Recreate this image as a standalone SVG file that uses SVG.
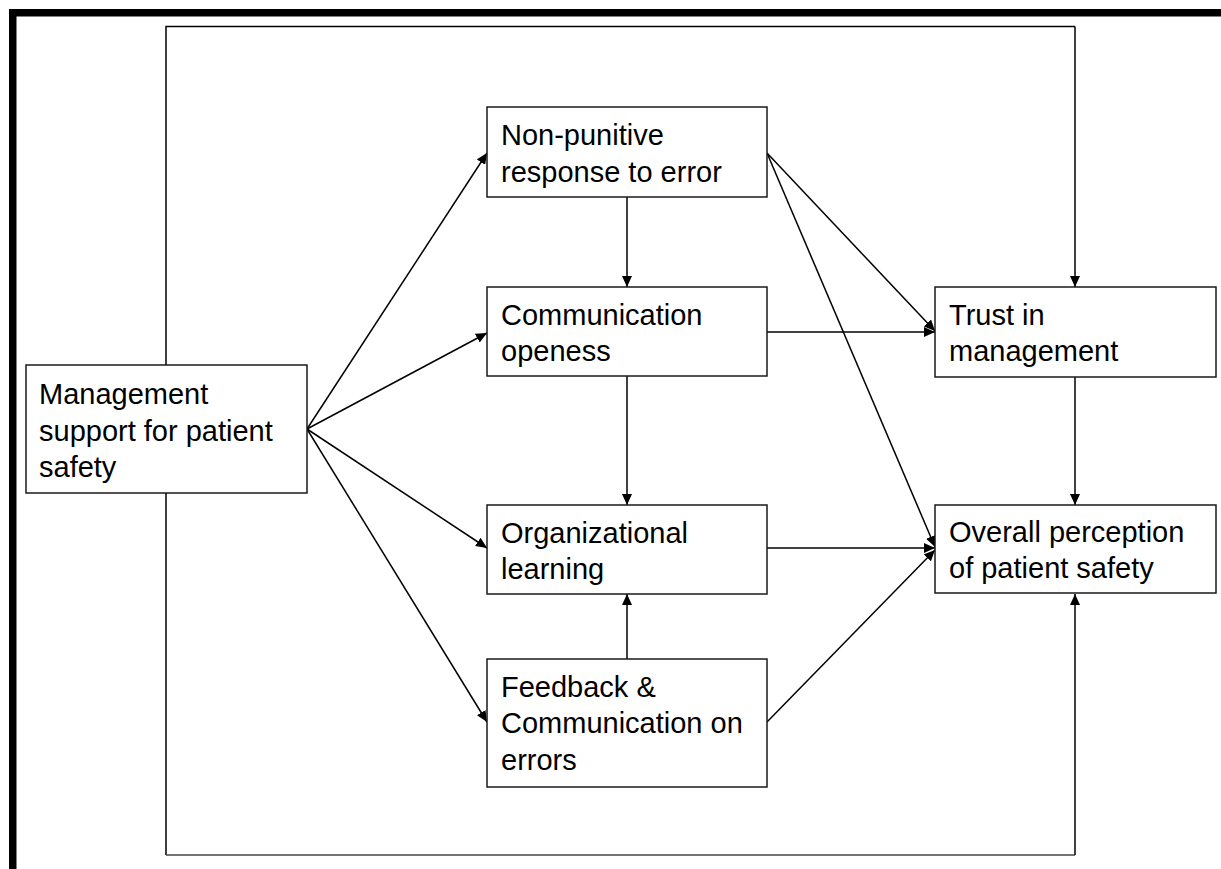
<svg xmlns="http://www.w3.org/2000/svg" width="1221" height="869" viewBox="0 0 1221 869">
<style>
.box{fill:#fff;stroke:#1a1a1a;stroke-width:1.5}
.lbl{font-family:"Liberation Sans",Arial,sans-serif;font-size:29px;fill:#000}
.conn{fill:none;stroke:#000;stroke-width:1.5}
.arr{marker-end:url(#ah)}
</style>
<defs>
<marker id="ah" markerUnits="userSpaceOnUse" markerWidth="12" markerHeight="10" refX="11" refY="5" orient="auto">
<path d="M0,0 L11,5 L0,10 z" fill="#000"/>
</marker>
</defs>
<rect width="1221" height="869" fill="#fff"/>
<g id="frame">
<rect x="9" y="9" width="1212" height="7.5" fill="#000"/>
<rect x="9" y="9" width="7.5" height="860" fill="#000"/>
</g>
<g id="connectors">
<path class="conn" d="M166,855 L166,26.5 L1075,26.5" stroke="#777"/>
<path class="conn arr" d="M1075,26.5 L1075,287"/>
<path class="conn" d="M166,855 L1075,855" style="stroke:#444"/>
<path class="conn arr" d="M1075,855 L1075,594"/>
<path class="conn arr" d="M307,429 L487,153"/>
<path class="conn arr" d="M307,429 L487,333"/>
<path class="conn arr" d="M307,429 L487,548"/>
<path class="conn arr" d="M307,429 L487,722"/>
<path class="conn arr" d="M627,197 L627,287"/>
<path class="conn arr" d="M627,376 L627,505"/>
<path class="conn arr" d="M627,659 L627,594"/>
<path class="conn arr" d="M767,153 L935,331"/>
<path class="conn arr" d="M767,153 L935,547"/>
<path class="conn arr" d="M767,332 L935,332"/>
<path class="conn arr" d="M767,548 L935,548"/>
<path class="conn arr" d="M767,722 L935,550"/>
<path class="conn arr" d="M1075,377 L1075,505"/>
</g>
<g id="node-management">
<rect class="box" x="26" y="365" width="281" height="128"/>
<text class="lbl" x="39" y="404">Management</text>
<text class="lbl" x="39" y="441">support for patient</text>
<text class="lbl" x="39" y="477">safety</text>
</g>
<g id="node-nonpunitive">
<rect class="box" x="487" y="107" width="280" height="90"/>
<text class="lbl" x="501" y="145">Non-punitive</text>
<text class="lbl" x="501" y="182">response to error</text>
</g>
<g id="node-communication">
<rect class="box" x="487" y="287" width="280" height="89"/>
<text class="lbl" x="501" y="325">Communication</text>
<text class="lbl" x="501" y="361">openess</text>
</g>
<g id="node-orglearning">
<rect class="box" x="487" y="505" width="280" height="89"/>
<text class="lbl" x="501" y="543">Organizational</text>
<text class="lbl" x="501" y="579">learning</text>
</g>
<g id="node-feedback">
<rect class="box" x="487" y="659" width="280" height="128"/>
<text class="lbl" x="501" y="697">Feedback &amp;</text>
<text class="lbl" x="501" y="733">Communication on</text>
<text class="lbl" x="501" y="770">errors</text>
</g>
<g id="node-trust">
<rect class="box" x="935" y="287" width="281" height="90"/>
<text class="lbl" x="949" y="325">Trust in</text>
<text class="lbl" x="949" y="361">management</text>
</g>
<g id="node-overall">
<rect class="box" x="935" y="505" width="281" height="88"/>
<text class="lbl" x="949" y="542">Overall perception</text>
<text class="lbl" x="949" y="578">of patient safety</text>
</g>
</svg>
